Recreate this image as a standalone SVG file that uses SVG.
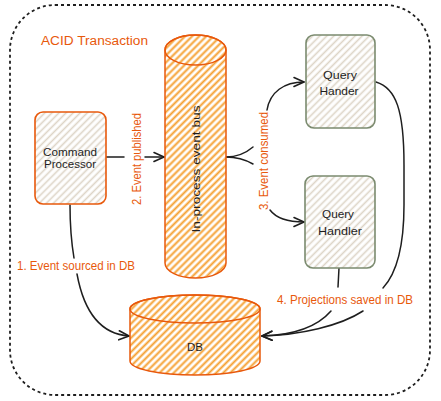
<svg xmlns="http://www.w3.org/2000/svg" width="441" height="401" viewBox="0 0 441 401">
<defs>
<pattern id="hOrange" patternUnits="userSpaceOnUse" width="5" height="5" patternTransform="rotate(45)">
<rect width="5" height="5" fill="#ffffff"/>
<line x1="1.5" y1="0" x2="1.5" y2="5" stroke="#f5a030" stroke-width="2"/>
</pattern>
<pattern id="hTan" patternUnits="userSpaceOnUse" width="5" height="5" patternTransform="rotate(45)">
<rect width="5" height="5" fill="#ffffff"/>
<line x1="1.5" y1="0" x2="1.5" y2="5" stroke="#ddd4c6" stroke-width="1.6"/>
</pattern>
<marker id="arr" viewBox="0 0 12 12" refX="11" refY="6" markerWidth="12" markerHeight="12" markerUnits="userSpaceOnUse" orient="auto">
<path d="M1,1.5 L11,6 L1,10.5" fill="none" stroke="#1e1e1e" stroke-width="1.6" stroke-linecap="round" stroke-linejoin="round"/>
</marker>
</defs>
<style>
text{font-family:"Liberation Sans",Arial,sans-serif;}
.lbl{fill:#e8590c;font-size:12px;}
.nt{fill:#1e1e1e;font-size:11.5px;}
.conn{fill:none;stroke:#1e1e1e;stroke-width:1.5;stroke-linecap:round;}
.cyl{fill:url(#hOrange);stroke:#e8590c;stroke-width:1.5;}
.box{fill:url(#hTan);stroke-width:1.6;}
</style>
<rect width="441" height="401" fill="#ffffff"/>
<g id="boundary">
<rect x="10" y="5" width="420" height="390" rx="45" ry="45" fill="none" stroke="#1e1e1e" stroke-width="1.8" stroke-dasharray="3 3"/>
<text class="lbl" x="41" y="45" textLength="107" lengthAdjust="spacingAndGlyphs" font-size="13">ACID Transaction</text>
</g>
<g id="connectors">
<path class="conn" d="M106,157 L124,157 M145,157 L164,157" marker-end="url(#arr)"/>
<path class="conn" d="M226,157 C238,157 246,153 253,147"/>
<path class="conn" d="M267,110 C270,92 284,82 304,82" marker-end="url(#arr)"/>
<path class="conn" d="M226,157 C238,157 246,160 253,164"/>
<path class="conn" d="M270,210 C276,218 288,222 304,222" marker-end="url(#arr)"/>
<path class="conn" d="M70,205 C70,228 72,246 74,258"/>
<path class="conn" d="M77,274 C84,312 100,334 129,336" marker-end="url(#arr)"/>
<path class="conn" d="M376,82 C396,88 404,110 404,165 L404,205 C404,250 396,274 383,288"/>
<path class="conn" d="M363,311 C340,326 300,335 262,336" marker-end="url(#arr)"/>
<path class="conn" d="M339,268 L338,287"/>
<path class="conn" d="M331,311 C318,326 295,335 262,336" marker-end="url(#arr)"/>
<text class="lbl" transform="translate(137,159) rotate(-90)" text-anchor="middle" dominant-baseline="central" textLength="92" lengthAdjust="spacingAndGlyphs">2. Event published</text>
<text class="lbl" transform="translate(264,161) rotate(-90)" text-anchor="middle" dominant-baseline="central" textLength="98" lengthAdjust="spacingAndGlyphs">3. Event consumed</text>
<text class="lbl" x="76" y="266" text-anchor="middle" dominant-baseline="central" textLength="118" lengthAdjust="spacingAndGlyphs">1. Event sourced in DB</text>
<text class="lbl" x="345" y="300" text-anchor="middle" dominant-baseline="central" textLength="136" lengthAdjust="spacingAndGlyphs">4. Projections saved in DB</text>
</g>
<g id="event-bus">
<path class="cyl" d="M165,50 L165,263 A30.5,15 0 0 0 226,263 L226,50 A30.5,15 0 0 0 165,50 Z"/>
<ellipse cx="195.5" cy="50" rx="30.5" ry="15" fill="none" stroke="#e8590c" stroke-width="1.5"/>
<text class="nt" transform="translate(196,169) rotate(-90)" text-anchor="middle" dominant-baseline="central" textLength="127" lengthAdjust="spacingAndGlyphs" font-size="12">In-process event bus</text>
</g>
<g id="command-processor">
<rect class="box" x="35" y="112" width="71" height="92" rx="8" ry="8" stroke="#e8590c"/>
<text class="nt" x="70" y="152" text-anchor="middle" dominant-baseline="central" textLength="54" lengthAdjust="spacingAndGlyphs">Command</text>
<text class="nt" x="70" y="164" text-anchor="middle" dominant-baseline="central" textLength="52" lengthAdjust="spacingAndGlyphs">Processor</text>
</g>
<g id="query-hander">
<rect class="box" x="306" y="35" width="69" height="93" rx="8" ry="8" stroke="#7b8b6f"/>
<text class="nt" x="340" y="75" text-anchor="middle" dominant-baseline="central" textLength="34" lengthAdjust="spacingAndGlyphs">Query</text>
<text class="nt" x="339" y="91" text-anchor="middle" dominant-baseline="central" textLength="39" lengthAdjust="spacingAndGlyphs">Hander</text>
</g>
<g id="query-handler">
<rect class="box" x="305" y="176" width="70" height="92" rx="8" ry="8" stroke="#7b8b6f"/>
<text class="nt" x="338" y="214" text-anchor="middle" dominant-baseline="central" textLength="32" lengthAdjust="spacingAndGlyphs">Query</text>
<text class="nt" x="340" y="231" text-anchor="middle" dominant-baseline="central" textLength="44" lengthAdjust="spacingAndGlyphs">Handler</text>
</g>
<g id="db">
<path class="cyl" d="M130,309 L130,361 A65,14 0 0 0 260,361 L260,309 A65,14 0 0 0 130,309 Z"/>
<ellipse cx="195" cy="309" rx="65" ry="14" fill="none" stroke="#e8590c" stroke-width="1.5"/>
<text class="nt" x="195" y="347" text-anchor="middle" dominant-baseline="central">DB</text>
</g>
</svg>
